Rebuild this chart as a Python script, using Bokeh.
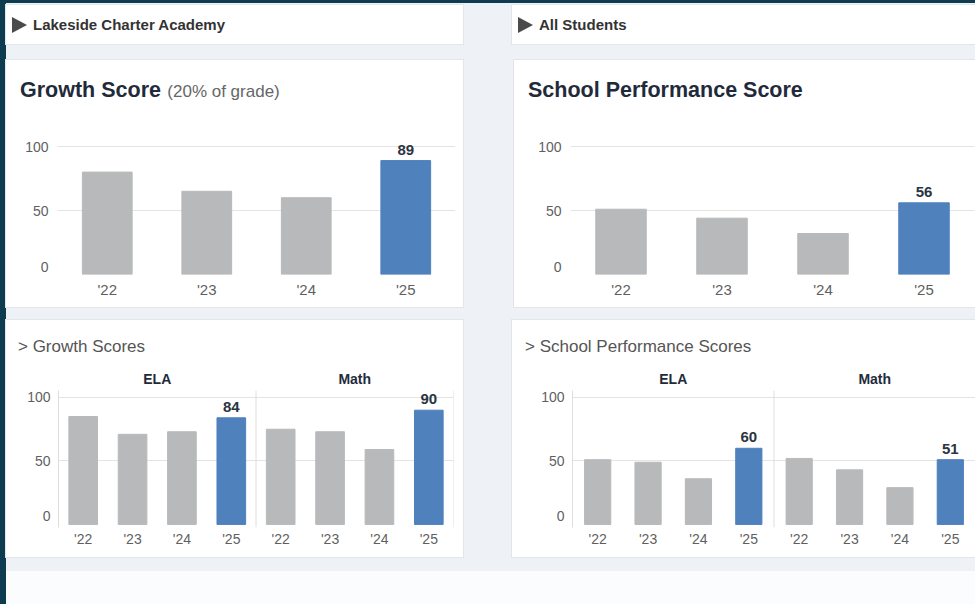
from bokeh.plotting import figure
from bokeh.models import (FactorRange, Range1d, FixedTicker, Div, Span, ColumnDataSource,
                          CategoricalAxis, CustomJSTickFormatter)
from bokeh.layouts import column, row
from bokeh.embed import file_html
from bokeh.resources import INLINE
from bokeh.core.properties import value

# ---------------- data ----------------
school_name = "Lakeside Charter Academy"
student_group = "All Students"
years = ["'22", "'23", "'24", "'25"]
subjects = ["ELA", "Math"]
highlight_year = "'25"
growth_score = [80, 65, 60, 89]
sps_score = [51, 44, 32, 56]
growth_ela = [85, 71, 73, 84]
growth_math = [75, 73, 59, 90]
sps_ela = [51, 49, 36, 60]
sps_math = [52, 43, 29, 51]
y_ticks = [0, 50, 100]

# ---------------- styles ----------------
FONT = "Liberation Sans"
DARK = "#0f3b50"
BG = "#eef2f6"
GREY = "#b8b9ba"
BLUE = "#4f81bd"
GRID = "#e4e4e4"
TICK_C = "#5f5f5f"
LABEL_C = "#2b3440"
NAVY = "#1f2b3b"
PANEL = {"background-color": "white", "box-shadow": "0 0 0 1px #e2e6eb"}


def style_axes(p, zero_pos, y_stand, x_stand, x_size, axis_line):
    p.yaxis.ticker = FixedTicker(ticks=[zero_pos] + y_ticks[1:])
    p.yaxis.major_label_overrides = {zero_pos: str(y_ticks[0])}
    p.ygrid.ticker = FixedTicker(ticks=y_ticks[1:])
    p.ygrid.grid_line_color = GRID
    p.xgrid.grid_line_color = None
    for ax in (p.xaxis[0], p.yaxis[0]):
        ax.major_tick_line_color = None
        ax.minor_tick_line_color = None
        ax.major_tick_out = 0
        ax.major_tick_in = 0
        ax.minor_tick_out = 0
        ax.major_label_text_font = FONT
        ax.major_label_text_color = TICK_C
    p.yaxis.major_label_text_font_size = "14px"
    p.xaxis.major_label_text_font_size = x_size
    p.yaxis.major_label_standoff = y_stand
    p.xaxis.major_label_standoff = x_stand
    p.xaxis.axis_line_color = None
    p.yaxis.axis_line_color = axis_line


def value_labels(p, xs, ys):
    lab = ColumnDataSource(dict(x=xs, y=ys, t=[str(v) for v in ys]))
    p.text(x="x", y="y", text="t", source=lab, text_align="center",
           text_baseline="alphabetic", y_offset=-11, text_font=value(FONT),
           text_font_size="15px", text_font_style="bold", text_color=LABEL_C)


def top_chart(vals, width, left, right):
    src = ColumnDataSource(dict(
        year=years, value=vals,
        color=[BLUE if y == highlight_year else GREY for y in years]))
    p = figure(x_range=FactorRange(factors=years), y_range=Range1d(0, 108.6),
               width=width, height=187, min_border_left=left, min_border_right=right,
               min_border_top=15, min_border_bottom=33,
               output_backend="svg", toolbar_location=None, outline_line_color=None,
               background_fill_color="white", border_fill_color="white")
    p.vbar(x="year", top="value", width=0.5, color="color", source=src)
    i = years.index(highlight_year)
    value_labels(p, [highlight_year], [vals[i]])
    style_axes(p, 5.7, 9, 6, "15px", None)
    return p


def bottom_chart(series, width, left, right, bar_w):
    keys = [f"{s} {y}" for s in subjects for y in years]
    yrs = [y for s in subjects for y in years]
    vals = [v for s in subjects for v in series[s]]
    src = ColumnDataSource(dict(
        x=keys, value=vals,
        color=[BLUE if y == highlight_year else GREY for y in yrs]))
    p = figure(x_range=FactorRange(factors=keys), y_range=Range1d(-2.4, 105.5),
               width=width, height=192, min_border_left=left, min_border_right=right,
               min_border_top=25, min_border_bottom=30,
               extra_x_ranges={"subject": FactorRange(factors=subjects)},
               output_backend="svg", toolbar_location=None, outline_line_color=None,
               background_fill_color="white", border_fill_color="white")
    p.vbar(x="x", top="value", width=bar_w, color="color", source=src)
    value_labels(p, [f"{s} {highlight_year}" for s in subjects],
                 [series[s][years.index(highlight_year)] for s in subjects])
    style_axes(p, 6.3, 8, 3, "14px", "#dedede")
    # show only the year part of each "subject year" factor
    p.xaxis.formatter = CustomJSTickFormatter(code="return tick.split(' ').slice(-1)[0];")
    # facet (subject) labels on an axis above the plot
    top_ax = CategoricalAxis(x_range_name="subject", axis_line_color=None,
                             major_tick_line_color=None, minor_tick_line_color=None,
                             major_tick_out=0, major_tick_in=0,
                             major_label_standoff=4, major_label_text_font=FONT,
                             major_label_text_font_size="14px",
                             major_label_text_font_style="bold",
                             major_label_text_color=NAVY)
    p.add_layout(top_ax, "above")
    n = len(years)
    for k in range(1, len(subjects) + 1):
        p.add_layout(Span(location=n * k, dimension="height", line_color="#dedede",
                          line_width=1))
    return p


def header(text, width, ml=0):
    html = (
        '<div style="display:flex;align-items:center;height:39px;padding-left:6px;'
        f"font-family:'{FONT}',Arial,sans-serif;font-weight:bold;font-size:15px;color:#333;white-space:nowrap\">"
        '<span style="display:inline-block;width:0;height:0;border-top:8px solid transparent;'
        'border-bottom:8px solid transparent;border-left:15px solid #4b4b4b;margin-right:6px"></span>'
        f"{text}</div>")
    return Div(text=html, width=width, height=39, margin=(0, 0, 0, ml), styles=PANEL)


def title_div(main, sub, width, height, pad_top, pad_left, size, bold=True, color=NAVY):
    weight = "bold" if bold else "normal"
    sub_html = (f' <span style="font-weight:normal;font-size:17px;color:#666;margin-left:3px">{sub}</span>'
                if sub else "")
    html = (f'<div style="padding:{pad_top}px 0 0 {pad_left}px;font-family:\'{FONT}\',Arial,sans-serif;'
            f'white-space:nowrap;color:{color}"><span style="font-weight:{weight};font-size:{size}">{main}</span>'
            f'{sub_html}</div>')
    return Div(text=html, width=width, height=height, margin=(0, 0, 0, 0))


# ---------------- panels ----------------
tl_fig = top_chart(growth_score, 457, 51, 8)
tr_fig = top_chart(sps_score, 461, 56, 1)
bl_fig = bottom_chart({"ELA": growth_ela, "Math": growth_math}, 457, 52, 10, 0.58)
br_fig = bottom_chart({"ELA": sps_ela, "Math": sps_math}, 463, 60, 0, 0.52)

panel_tl = column(title_div("Growth Score", "(20% of grade)", 457, 60, 15, 14, "21.5px"), tl_fig,
                  width=457, height=247, styles=PANEL)
panel_tr = column(title_div("School Performance Score", "", 461, 60, 15, 14, "21.5px"), tr_fig,
                  width=461, height=247, margin=(0, 0, 0, 51), styles=PANEL)
panel_bl = column(title_div("&gt; Growth Scores", "", 457, 45, 15, 12, "17px", bold=False, color="#555"),
                  bl_fig, width=457, height=237, styles=PANEL)
panel_br = column(title_div("&gt; School Performance Scores", "", 463, 45, 15, 13, "17px", bold=False,
                            color="#555"),
                  br_fig, width=463, height=237, margin=(0, 0, 0, 49), styles=PANEL)

row1 = row(header(school_name, 457), header(student_group, 463, 49), width=969, height=39,
           margin=(2, 0, 0, 0))
row2 = row(panel_tl, panel_tr, width=969, height=247, margin=(16, 0, 0, 0))
row3 = row(panel_bl, panel_br, width=969, height=237, margin=(13, 0, 0, 0))
bottom = Div(text="", width=969, height=33, margin=(14, 0, 0, 0),
             styles={"background-color": "#fbfcfd"})

inner = column(row1, row2, row3, bottom, width=969, height=601, margin=(3, 0, 0, 6),
               styles={"background-color": BG})
p = column(inner, width=975, height=604, styles={"background-color": DARK})

open("out.html", "w").write(file_html(p, INLINE))
